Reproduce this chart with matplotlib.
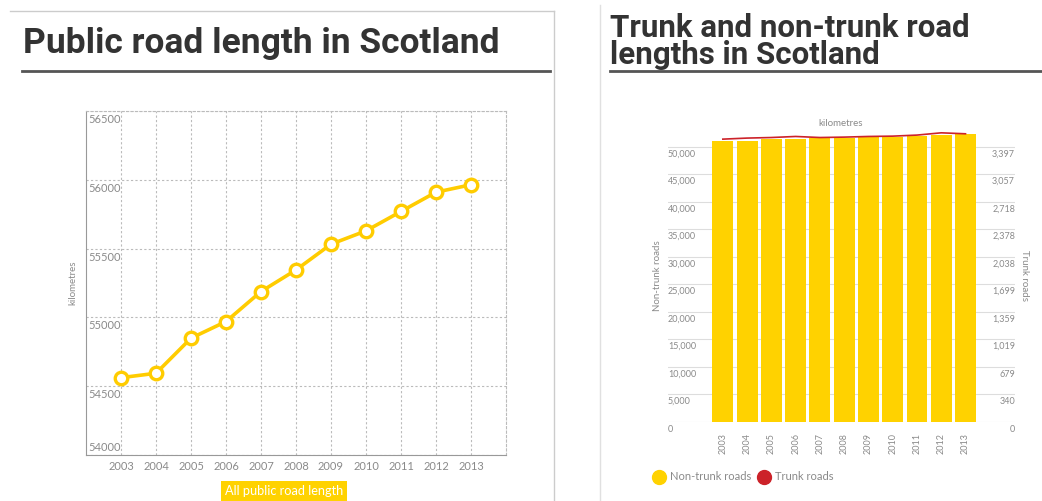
import matplotlib
matplotlib.use('Agg')
import matplotlib.pyplot as plt
import matplotlib.transforms as mtransforms
from matplotlib.lines import Line2D

# data
years = [2003, 2004, 2005, 2006, 2007, 2008, 2009, 2010, 2011, 2012, 2013]
public_road_km = [54562, 54594, 54849, 54970, 55188, 55345, 55532, 55629, 55770, 55910, 55964]
non_trunk_km = [51030, 51091, 51333, 51454, 51576, 51636, 51758, 51818, 51939, 52182, 52303]
trunk_km = [3488, 3501, 3508, 3521, 3508, 3513, 3521, 3525, 3538, 3566, 3554]
left_ticks = [54000, 54500, 55000, 55500, 56000, 56500]
nt_ticks = [0, 5000, 10000, 15000, 20000, 25000, 30000, 35000, 40000, 45000, 50000]
trunk_tick_labels = ['0', '340', '679', '1,019', '1,359', '1,699', '2,038', '2,378', '2,718', '3,057', '3,397']

YELLOW = '#FFD200'
LINE_YEL = '#FFCC00'
RED = '#CC2229'
GREY = '#8a8a8a'
DARK = '#333333'

plt.rcParams['font.family'] = ['Lato', 'DejaVu Sans']

W, H = 1042, 501
fig = plt.figure(figsize=(W / 100, H / 100), dpi=100)


def rect(x0, y0, x1, y1):
    return [x0 / W, 1 - y1 / H, (x1 - x0) / W, (y1 - y0) / H]


def fline(x0, y0, x1, y1, color, lw):
    fig.add_artist(Line2D([x0 / W, x1 / W], [1 - y0 / H, 1 - y1 / H],
                          transform=fig.transFigure, color=color, lw=lw))


def shift(labels, dy_px):
    off = mtransforms.ScaledTranslation(0, dy_px / 100, fig.dpi_scale_trans)
    for lab in labels:
        lab.set_transform(lab.get_transform() + off)


# panel frames, titles, underlines
fline(10, 11, 554, 11, '#cccccc', 1)
fline(554, 11, 554, 501, '#cccccc', 1)
fline(600, 5, 600, 501, '#e0e0e0', 1)
title_font = ['Roboto', 'DejaVu Sans']
fig.text(23 / W, 1 - 53 / H, 'Public road length in Scotland', fontsize=25.5,
         fontweight='bold', color=DARK, va='baseline', family=title_font)
fline(22, 71, 550, 71, '#555555', 2)
fig.text(610 / W, 1 - 13 / H, 'Trunk and non-trunk road\nlengths in Scotland',
         fontsize=22.5, fontweight='bold', color=DARK, va='top',
         linespacing=0.88, family=title_font)
fline(610, 71, 1042, 71, '#555555', 2)

# ---- left chart: line
ax = fig.add_axes(rect(86, 111, 506, 455))
ax.plot(years, public_road_km, color=LINE_YEL, lw=2.6, marker='o', ms=9,
        mfc='white', mec=LINE_YEL, mew=2.4, zorder=3)
ax.set_xlim(2002, 2014)
ax.set_ylim(54000, 56500)
ax.set_xticks(years)
ax.set_yticks(left_ticks)
ax.grid(True, color='#bbbbbb', lw=0.8, ls=(0, (2, 2)))
for s in ['top', 'right']:
    ax.spines[s].set_color('#bbbbbb')
    ax.spines[s].set_linestyle((0, (2, 2)))
    ax.spines[s].set_linewidth(0.8)
for s in ['left', 'bottom']:
    ax.spines[s].set_color('#999999')
ax.tick_params(axis='both', length=0, labelsize=8, labelcolor=GREY)
ax.tick_params(axis='x', pad=4)
ax.tick_params(axis='y', pad=-2)
ylabs = ax.get_yticklabels()
for lab in ylabs:
    lab.set_ha('left')
    lab.set_va('top')
shift(ylabs[1:], -3)
ylabs[0].set_va('bottom')
shift(ylabs[:1], 2)
ax.set_ylabel('kilometres', fontsize=7, color=GREY, labelpad=6)
fig.text(284 / W, 1 - 491 / H, 'All public road length', fontsize=9.2,
         color='white', ha='center', va='center',
         bbox=dict(boxstyle='square,pad=0.3', fc=YELLOW, ec='none'))

# ---- right chart: bars + line on twin axis
ax1 = fig.add_axes(rect(668, 130, 1015, 421.7))
x = list(range(len(years)))
ax1.bar(x, non_trunk_km, width=0.86, color=YELLOW, zorder=2)
ax1.set_xlim(-2.26, 12.04)
ax1.set_ylim(0, 53000)
ax1.set_yticks(nt_ticks)
ax1.set_yticklabels([f'{v:,}' for v in nt_ticks])
ax1.set_xticks(x)
ax1.set_xticklabels([str(y) for y in years], rotation=90)
ax1.set_axisbelow(True)
ax1.grid(True, axis='y', color='#dddddd', lw=0.8)
for s in ax1.spines.values():
    s.set_visible(False)
ax1.tick_params(axis='both', length=0, labelsize=6.5, labelcolor=GREY)
ax1.tick_params(axis='x', pad=8)
ax1.tick_params(axis='y', pad=0)
for lab in ax1.get_yticklabels():
    lab.set_ha('left')
    lab.set_va('top')
shift(ax1.get_yticklabels(), -3)
ax1.set_ylabel('Non-trunk roads', fontsize=7, color=GREY, labelpad=4)

ax2 = ax1.twinx()
ax2.plot(x, trunk_km, color=RED, lw=1.2, zorder=3)
ax2.set_ylim(0, 3397 * 53000 / 50000)
ax2.set_yticks([v * 3397 / 50000 for v in nt_ticks])
ax2.set_yticklabels(trunk_tick_labels)
for s in ax2.spines.values():
    s.set_visible(False)
ax2.tick_params(axis='y', length=0, labelsize=6.5, labelcolor=GREY, pad=0)
for lab in ax2.get_yticklabels():
    lab.set_ha('right')
    lab.set_va('top')
shift(ax2.get_yticklabels(), -3)
ax2.set_ylabel('Trunk roads', fontsize=7, color=GREY, rotation=-90, labelpad=10)
fig.text(841 / W, 1 - 124 / H, 'kilometres', fontsize=7, color=GREY,
         ha='center', va='center')

handles = [Line2D([], [], ls='none', marker='o', ms=10, color=YELLOW),
           Line2D([], [], ls='none', marker='o', ms=10, color=RED)]
fig.legend(handles, ['Non-trunk roads', 'Trunk roads'], loc='center left',
           bbox_to_anchor=(642 / W, 1 - 477 / H), ncol=2, frameon=False,
           fontsize=8, labelcolor=GREY, handletextpad=0.4, columnspacing=0.6,
           handlelength=1.2)

fig.savefig('out.png', dpi=100)
